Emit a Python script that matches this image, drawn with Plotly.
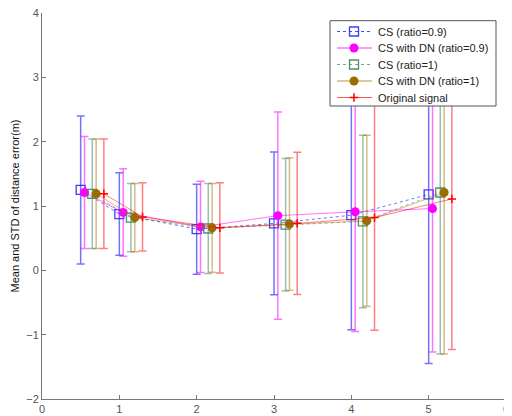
import plotly.graph_objects as go

# ---- data ----
x_cs09 = [0.5, 1.0, 2.0, 3.0, 4.0, 5.0]
x_dn09 = [0.55, 1.05, 2.05, 3.05, 4.05, 5.05]
x_cs1 = [0.65, 1.15, 2.15, 3.15, 4.15, 5.15]
x_dn1 = [0.7, 1.2, 2.2, 3.2, 4.2, 5.2]
x_orig = [0.8, 1.3, 2.3, 3.3, 4.3, 5.3]

mean_cs09 = [1.25, 0.875, 0.64, 0.73, 0.857, 1.18]
std_cs09 = [1.15, 0.64, 0.70, 1.11, 1.78, 2.63]
mean_dn09 = [1.21, 0.90, 0.675, 0.85, 0.91, 0.96]
std_dn09 = [0.87, 0.68, 0.71, 1.61, 1.86, 2.23]
mean_cs1 = [1.19, 0.82, 0.65, 0.71, 0.76, 1.21]
std_cs1 = [0.85, 0.53, 0.70, 1.03, 1.34, 2.51]
mean_dn1 = [1.19, 0.82, 0.66, 0.72, 0.77, 1.21]
std_dn1 = [0.85, 0.53, 0.69, 1.03, 1.33, 2.51]
mean_orig = [1.19, 0.83, 0.66, 0.73, 0.82, 1.11]
std_orig = [0.85, 0.53, 0.70, 1.105, 1.75, 2.34]

names = ["CS (ratio=0.9)", "CS with DN (ratio=0.9)", "CS (ratio=1)",
         "CS with DN (ratio=1)", "Original signal"]

x_ticks = [0, 1, 2, 3, 4, 5, 6]
y_ticks = [-2, -1, 0, 1, 2, 3, 4]

FONT = "Liberation Sans, Arial, sans-serif"

# figure-pixel geometry of the plot area (page has an 8px body margin)
W, H = 512, 416
L, R, T, B = 34, 14, 5, 25
PX0, PX1 = L, W - R
PY0, PY1 = T, H - B

fig = go.Figure()

styles = [
    ("rgba(0,0,255,0.55)", "dot",
     dict(symbol="square-open", size=9, color="rgba(40,40,255,0.9)", line=dict(width=1.3))),
    ("rgba(255,0,255,0.55)", "solid",
     dict(symbol="circle", size=9, color="#ff00ff")),
    ("rgba(60,130,90,0.5)", "dot",
     dict(symbol="square-open", size=9, color="rgba(60,130,90,0.9)", line=dict(width=1.3))),
    ("rgba(170,120,20,0.5)", "solid",
     dict(symbol="circle", size=9, color="#9c6c00")),
    ("rgba(255,0,0,0.5)", "solid",
     dict(symbol="cross-thin", size=6, color="red", line=dict(width=1.5, color="red"))),
]
data = [
    (x_cs09, mean_cs09, std_cs09),
    (x_dn09, mean_dn09, std_dn09),
    (x_cs1, mean_cs1, std_cs1),
    (x_dn1, mean_dn1, std_dn1),
    (x_orig, mean_orig, std_orig),
]

for (xs, ys, es), nm, (col, dash, mk) in zip(data, names, styles):
    fig.add_trace(go.Scatter(
        x=xs, y=ys, name=nm, mode="lines+markers", showlegend=False,
        line=dict(color=col, width=1, dash=dash),
        marker=mk,
        error_y=dict(type="data", array=es, visible=True, color=col,
                     thickness=1.5, width=4),
    ))

# ---- custom legend drawn on an overlay axis measured in figure pixels ----
LB_X0, LB_X1, LB_Y0, LB_Y1 = 322, 488, 12.7, 98
row_y = [23.5, 40, 56.5, 73, 89.5]
fig.add_trace(go.Scatter(
    x=[LB_X0, LB_X1, LB_X1, LB_X0, LB_X0], y=[LB_Y0, LB_Y0, LB_Y1, LB_Y1, LB_Y0],
    xaxis="x2", yaxis="y2", mode="lines", fill="toself", fillcolor="white",
    line=dict(color="#555", width=1), showlegend=False, hoverinfo="skip"))
line_cols = ["rgba(0,0,255,0.7)", "rgba(255,0,255,0.8)", "rgba(60,130,90,0.7)",
             "rgba(170,120,20,0.8)", "rgba(255,40,40,0.8)"]
for (col, dash, mk), lc, yy, nm in zip(styles, line_cols, row_y, names):
    fig.add_trace(go.Scatter(
        x=[329, 364], y=[yy, yy], xaxis="x2", yaxis="y2", mode="lines",
        line=dict(color=lc, width=1, dash=dash), showlegend=False, hoverinfo="skip"))
    fig.add_trace(go.Scatter(
        x=[346], y=[yy], xaxis="x2", yaxis="y2", mode="markers",
        marker=mk, showlegend=False, hoverinfo="skip"))
    fig.add_annotation(x=368, y=yy, xref="x2", yref="y2", text=nm,
                       showarrow=False, xanchor="left", yanchor="middle",
                       font=dict(family=FONT, size=11, color="#222"))

fig.update_layout(
    width=W, height=H,
    margin=dict(l=L, r=R, t=T, b=B, autoexpand=False),
    paper_bgcolor="white", plot_bgcolor="white",
    font=dict(family=FONT, size=11, color="#555"),
    showlegend=False,
    xaxis=dict(range=[0, 6], tickvals=x_ticks, showgrid=False, zeroline=False,
               showline=True, linecolor="#777", linewidth=1,
               ticks="inside", ticklen=4, tickcolor="#777",
               tickfont=dict(size=11, color="#555"), automargin=False,
               ticklabeloverflow="allow"),
    yaxis=dict(range=[-2, 4], tickvals=y_ticks, showgrid=False, zeroline=False,
               showline=True, linecolor="#777", linewidth=1,
               ticks="inside", ticklen=4, tickcolor="#777",
               tickfont=dict(size=11, color="#555"), automargin=False,
               ticklabeloverflow="allow",
               title=dict(text="Mean and STD of distance error(m)",
                          font=dict(size=11, color="#111"), standoff=4)),
    xaxis2=dict(overlaying="x", range=[PX0, PX1], visible=False, fixedrange=True),
    yaxis2=dict(overlaying="y", range=[PY1, PY0], visible=False, fixedrange=True),
)

fig.write_html("out.html")
